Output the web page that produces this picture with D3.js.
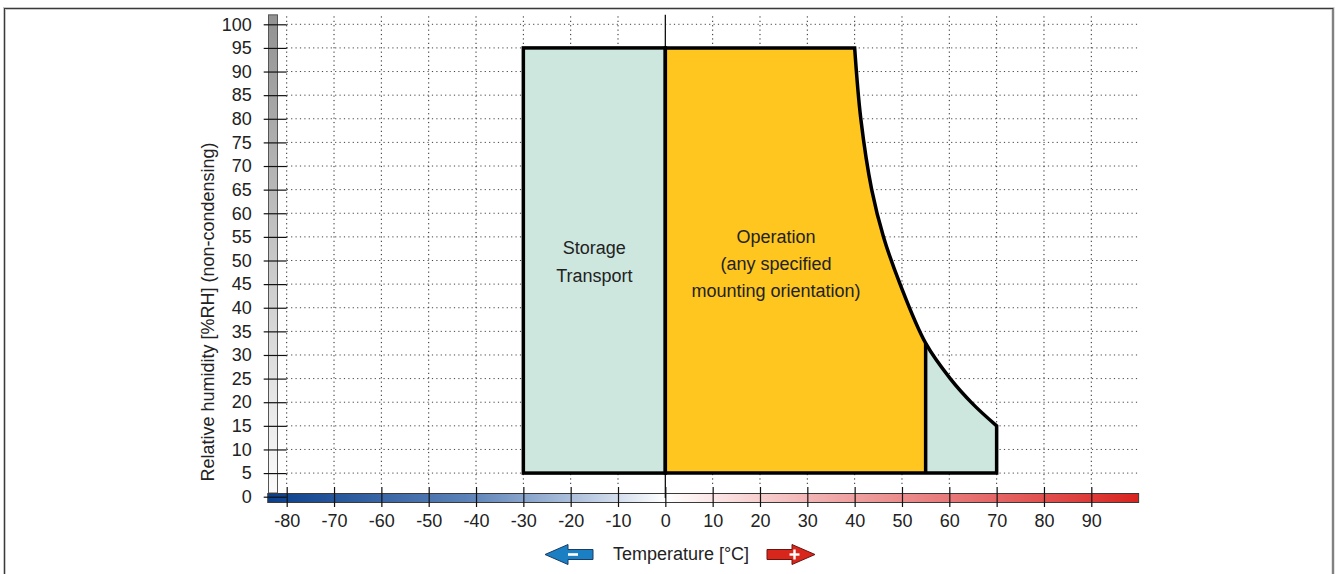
<!DOCTYPE html>
<html>
<head>
<meta charset="utf-8">
<script src="https://cdn.jsdelivr.net/npm/d3@7"></script>
<style>
  html, body { margin: 0; padding: 0; background: #fff; }
  svg { display: block; font-family: "Liberation Sans", Arial, sans-serif; }
</style>
</head>
<body>
<svg id="chart" width="1336" height="574"></svg>
<script>
// ---- data ----
const xTicks = [-80, -70, -60, -50, -40, -30, -20, -10, 0, 10, 20, 30, 40, 50, 60, 70, 80, 90];
const yTicks = [0, 5, 10, 15, 20, 25, 30, 35, 40, 45, 50, 55, 60, 65, 70, 75, 80, 85, 90, 95, 100];
const storageRect = { tMin: -30, tMax: 0, rhMin: 5, rhMax: 95 };
const operationBox = { tMin: 0, tTop: 40, tEdge: 55, rhMin: 5, rhMax: 95 };
const curveT  = [40, 41.3, 43.6, 46.1, 49.6, 55,   60.2, 65,   70];
const curveRH = [95, 80,   65,   55,   45,   32.5, 25,   19.6, 15];
const storageEnd = { t: 70, rhMin: 5 };
const labelStorage = ["Storage", "Transport"];
const labelOperation = ["Operation", "(any specified", "mounting orientation)"];
const yTitle = "Relative humidity [%RH] (non-condensing)";
const xTitle = "Temperature [°C]";

// ---- setup ----
const svg = d3.select("#chart");
const x = d3.scaleLinear().domain([-80, 90]).range([286.7, 1091.3]);
const y = d3.scaleLinear().domain([0, 100]).range([496.7, 24.3]);
const xMin = -84, xMax = 100, yTop = 102;

const defs = svg.append("defs");
const tg = defs.append("linearGradient").attr("id", "tempGrad").attr("x1", 0).attr("x2", 1).attr("y1", 0).attr("y2", 0);
const zeroOff = (x(0) - x(xMin)) / (x(xMax) - x(xMin));
[[0, "#0a3f8c"], [zeroOff * 0.5, "#5b82b8"], [zeroOff * 0.8, "#b7c8e0"], [zeroOff, "#ffffff"],
 [zeroOff + (1 - zeroOff) * 0.35, "#f1a9a9"], [zeroOff + (1 - zeroOff) * 0.7, "#e56565"], [1, "#d92420"]]
  .forEach(([o, c]) => tg.append("stop").attr("offset", o).attr("stop-color", c));
const gg = defs.append("linearGradient").attr("id", "grayGrad").attr("x1", 0).attr("x2", 0).attr("y1", 0).attr("y2", 1);
gg.append("stop").attr("offset", 0).attr("stop-color", "#929292");
gg.append("stop").attr("offset", 1).attr("stop-color", "#fbfbfb");

// frame
svg.append("rect").attr("x", 4.5).attr("y", 8.5).attr("width", 1328.5).attr("height", 600)
  .attr("fill", "none").attr("stroke", "#c8c8c8").attr("stroke-width", 3);
svg.append("rect").attr("x", 4.5).attr("y", 8.5).attr("width", 1328.5).attr("height", 600)
  .attr("fill", "none").attr("stroke", "#3a3a3a").attr("stroke-width", 1);

// grid
const gridV = xTicks.filter(t => t !== 0);
svg.append("g").selectAll("line").data(gridV).join("line")
  .attr("x1", d => x(d)).attr("x2", d => x(d))
  .attr("y1", y(yTop) + 1.5).attr("y2", 487)
  .attr("stroke", "#222").attr("stroke-width", 1).attr("stroke-dasharray", "1.2,3.2");
svg.append("g").selectAll("line").data(yTicks.filter(t => t > 0)).join("line")
  .attr("x1", x(-80)).attr("x2", x(xMax))
  .attr("y1", d => y(d)).attr("y2", d => y(d))
  .attr("stroke", "#444").attr("stroke-width", 1).attr("stroke-dasharray", "1.2,3.2");

// gray humidity bar
svg.append("rect").attr("x", 268.5).attr("y", y(yTop)).attr("width", 9).attr("height", 493 - y(yTop))
  .attr("fill", "url(#grayGrad)").attr("stroke", "#555").attr("stroke-width", 1);

// temperature bar
svg.append("rect").attr("x", x(xMin)).attr("y", 493.5).attr("width", x(xMax) - x(xMin)).attr("height", 9)
  .attr("fill", "url(#tempGrad)").attr("stroke", "#3a3a3a").attr("stroke-width", 1);

// zero line
svg.append("line").attr("x1", x(0)).attr("x2", x(0)).attr("y1", y(yTop)).attr("y2", 498)
  .attr("stroke", "#111").attr("stroke-width", 1.3);

// axes
const yAxis = d3.axisLeft(y).tickValues(yTicks).tickSize(23).tickPadding(12).tickFormat(d => String(d));
const gy = svg.append("g").attr("transform", `translate(${x(-80)},0)`).call(yAxis);
gy.select(".domain").remove();
gy.selectAll(".tick line").attr("stroke", "#111").attr("stroke-width", 1.2);
gy.selectAll(".tick text").attr("font-size", 18).attr("fill", "#222").attr("font-family", "Liberation Sans, Arial, sans-serif");

const xAxis = d3.axisBottom(x).tickValues(xTicks).tickSize(20).tickPadding(7).tickFormat(d => String(d));
const gx = svg.append("g").attr("transform", `translate(0,487)`).call(xAxis);
gx.select(".domain").remove();
gx.selectAll(".tick line").attr("stroke", "#111").attr("stroke-width", 1.2);
gx.selectAll(".tick text").attr("font-size", 18).attr("fill", "#222").attr("font-family", "Liberation Sans, Arial, sans-serif");

// areas
const curvePts = curveT.map((t, i) => [x(t), y(curveRH[i])]);
const curveLine = d3.line().curve(d3.curveCatmullRom.alpha(0.5));
const curveD = curveLine(curvePts);
const fullShape = `M${x(operationBox.tMin)},${y(operationBox.rhMin)}L${x(operationBox.tMin)},${y(operationBox.rhMax)}L` +
  curveD.slice(1) + `L${x(storageEnd.t)},${y(storageEnd.rhMin)}Z`;

defs.append("clipPath").attr("id", "clipOp").append("rect")
  .attr("x", x(operationBox.tMin) - 5).attr("y", 0).attr("width", x(operationBox.tEdge) - x(operationBox.tMin) + 5).attr("height", 574);
defs.append("clipPath").attr("id", "clipSt").append("rect")
  .attr("x", x(operationBox.tEdge)).attr("y", 0).attr("width", 200).attr("height", 574);

svg.append("rect")
  .attr("x", x(storageRect.tMin)).attr("y", y(storageRect.rhMax))
  .attr("width", x(storageRect.tMax) - x(storageRect.tMin)).attr("height", y(storageRect.rhMin) - y(storageRect.rhMax))
  .attr("fill", "#cde7df").attr("stroke", "#000").attr("stroke-width", 3.5);
svg.append("path").attr("d", fullShape).attr("fill", "#fec61f").attr("clip-path", "url(#clipOp)");
svg.append("path").attr("d", fullShape).attr("fill", "#cde7df").attr("clip-path", "url(#clipSt)");
svg.append("path").attr("d", fullShape).attr("fill", "none").attr("stroke", "#000").attr("stroke-width", 3.5).attr("stroke-linejoin", "miter");
const edgeRH = curveRH[curveT.indexOf(operationBox.tEdge)];
svg.append("line").attr("x1", x(operationBox.tEdge)).attr("x2", x(operationBox.tEdge))
  .attr("y1", y(edgeRH)).attr("y2", y(operationBox.rhMin)).attr("stroke", "#000").attr("stroke-width", 3.5);

// labels
function multiLabel(lines, cx, cy0, dy) {
  svg.append("g").selectAll("text").data(lines).join("text")
    .attr("x", cx).attr("y", (d, i) => cy0 + i * dy).attr("text-anchor", "middle")
    .attr("dominant-baseline", "central").attr("font-size", 18).attr("fill", "#222").text(d => d);
}
multiLabel(labelStorage, (x(storageRect.tMin) + x(storageRect.tMax)) / 2, 248, 27.5);
multiLabel(labelOperation, 776, 237, 27);

svg.append("text").attr("transform", `translate(208,312) rotate(-90)`).attr("text-anchor", "middle")
  .attr("dominant-baseline", "central").attr("font-size", 18).attr("fill", "#222").text(yTitle);
svg.append("text").attr("x", 681).attr("y", 554).attr("text-anchor", "middle")
  .attr("dominant-baseline", "central").attr("font-size", 18).attr("fill", "#222").text(xTitle);

// arrows
const cy = 554.5;
svg.append("path").attr("d", `M545,${cy} L568,${cy - 10} L568,${cy - 5} L593,${cy - 5} L593,${cy + 5} L568,${cy + 5} L568,${cy + 10} Z`)
  .attr("fill", "#1b7fc4").attr("stroke", "#1a3c66").attr("stroke-width", 1);
svg.append("rect").attr("x", 568).attr("y", cy - 1.3).attr("width", 10).attr("height", 2.6).attr("fill", "#fff");
svg.append("path").attr("d", `M767,${cy - 5} L792,${cy - 5} L792,${cy - 10} L815,${cy} L792,${cy + 10} L792,${cy + 5} L767,${cy + 5} Z`)
  .attr("fill", "#d9261c").attr("stroke", "#6a1410").attr("stroke-width", 1);
svg.append("rect").attr("x", 789.5).attr("y", cy - 1.2).attr("width", 10).attr("height", 2.4).attr("fill", "#fff");
svg.append("rect").attr("x", 793.3).attr("y", cy - 5).attr("width", 2.4).attr("height", 10).attr("fill", "#fff");
</script>
</body>
</html>
